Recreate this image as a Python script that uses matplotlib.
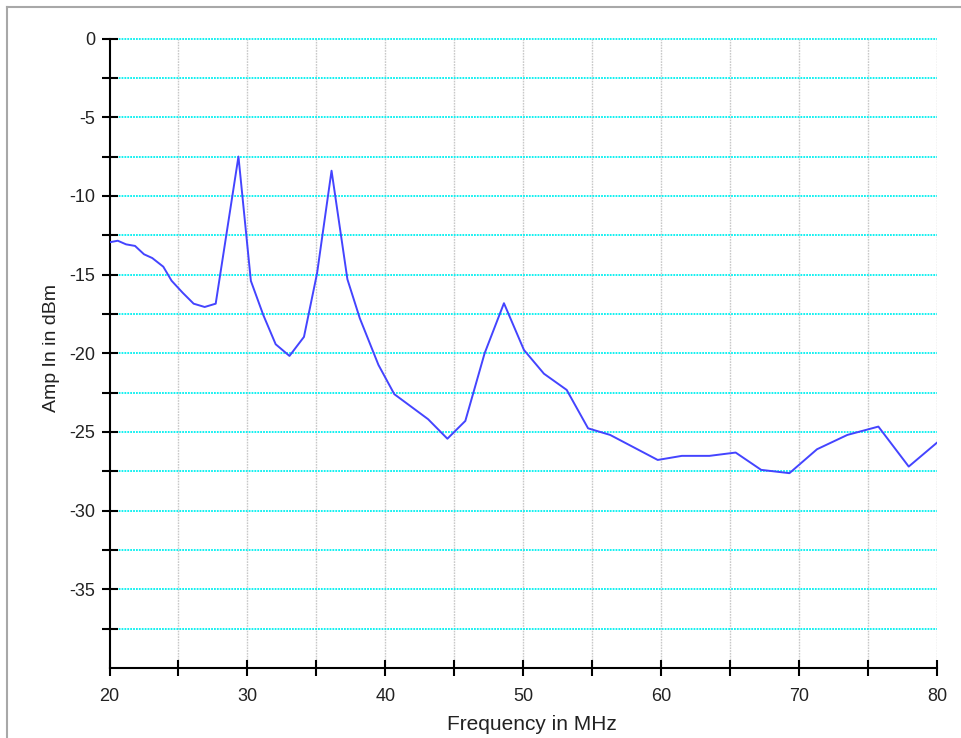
import matplotlib
matplotlib.use("Agg")
import matplotlib.pyplot as plt
from matplotlib.lines import Line2D
from matplotlib.ticker import FixedLocator

plt.rcParams['font.family'] = ['Liberation Sans', 'DejaVu Sans']
plt.rcParams['axes.unicode_minus'] = False

freq = [20.0, 20.6, 21.2, 21.85, 22.5, 23.1, 23.9, 24.5, 25.3, 26.1, 26.9, 27.7,
        29.35, 30.25, 31.15, 32.05, 33.05, 34.1, 35.05, 36.1, 37.25, 38.15, 39.5,
        40.65, 43.1, 44.5, 45.8, 47.2, 48.6, 50.05, 51.5, 53.15, 54.7, 56.3,
        59.75, 61.5, 63.5, 65.4, 67.25, 69.3, 71.3, 73.5, 75.75, 77.95, 80.0]
amp = [-12.95, -12.85, -13.08, -13.18, -13.71, -13.95, -14.5, -15.39, -16.15, -16.85,
       -17.06, -16.85, -7.5, -15.4, -17.57, -19.43, -20.17, -18.96, -14.92, -8.4,
       -15.3, -17.78, -20.74, -22.6, -24.19, -25.43, -24.3, -20.0, -16.82, -19.79,
       -21.3, -22.33, -24.77, -25.19, -26.78, -26.52, -26.52, -26.31, -27.41, -27.62,
       -26.1, -25.19, -24.66, -27.2, -25.68]

x_ticks = [20, 30, 40, 50, 60, 70, 80]
x_minor = [25, 35, 45, 55, 65, 75]
y_ticks = [-35, -30, -25, -20, -15, -10, -5, 0]
y_minor = [-37.5, -32.5, -27.5, -22.5, -17.5, -12.5, -7.5, -2.5]
x_label = "Frequency in MHz"
y_label = "Amp In in dBm"

W, H = 962, 738
fig = plt.figure(figsize=(W / 100, H / 100), dpi=100)
fig.patch.set_facecolor('white')

# outer frame (top and left gray border)
fig.add_artist(Line2D([7 / W, 1.0], [1 - 7 / H, 1 - 7 / H], color='#a8a8a8', lw=1.5,
                      transform=fig.transFigure))
fig.add_artist(Line2D([7 / W, 7 / W], [0, 1 - 7 / H], color='#a8a8a8', lw=1.5,
                      transform=fig.transFigure))

left, right = 109.5 / W, 937 / W
bottom, top = 1 - 668 / H, 1 - 38.5 / H
ax = fig.add_axes([left, bottom, right - left, top - bottom])

ax.set_xlim(20, 80)
ax.set_ylim(-40, 0)

ax.set_xticks(x_ticks)
ax.xaxis.set_minor_locator(FixedLocator(x_minor))
ax.set_yticks(y_ticks)
ax.yaxis.set_minor_locator(FixedLocator(y_minor))

# grid lines
for xv in x_minor + x_ticks[1:]:
    ax.axvline(xv, color='#c8c8c8', lw=1.0, ls=(0, (1.2, 0.8)), zorder=1)
for yv in y_minor + y_ticks:
    ax.axhline(yv, color='#00f0f0', lw=1.3, ls=(0, (1, 0.6)), zorder=1, clip_on=False)

ax.plot(freq, amp, color='#4444ff', lw=1.4, zorder=3)

for s in ['top', 'right']:
    ax.spines[s].set_visible(False)
for s in ['left', 'bottom']:
    ax.spines[s].set_linewidth(1.5)
    ax.spines[s].set_color('black')

ax.tick_params(which='both', direction='inout', length=11, width=1.5, color='black',
               labelsize=13, labelcolor='#222222')
ax.tick_params(axis='y', which='both', pad=5)
ax.tick_params(axis='x', which='both', pad=9)

ax.set_xlabel(x_label, fontsize=15, color='#222222')
ax.set_ylabel(y_label, fontsize=14, color='#222222')
ax.xaxis.set_label_coords((532 / W - left) / (right - left), (1 - 715 / H - bottom) / (top - bottom))
ax.xaxis.label.set_va('top')
ax.yaxis.set_label_coords((60 / W - left) / (right - left), (668 - 348) / (668 - 38.5))

fig.savefig("out.png", dpi=100, facecolor='white')
